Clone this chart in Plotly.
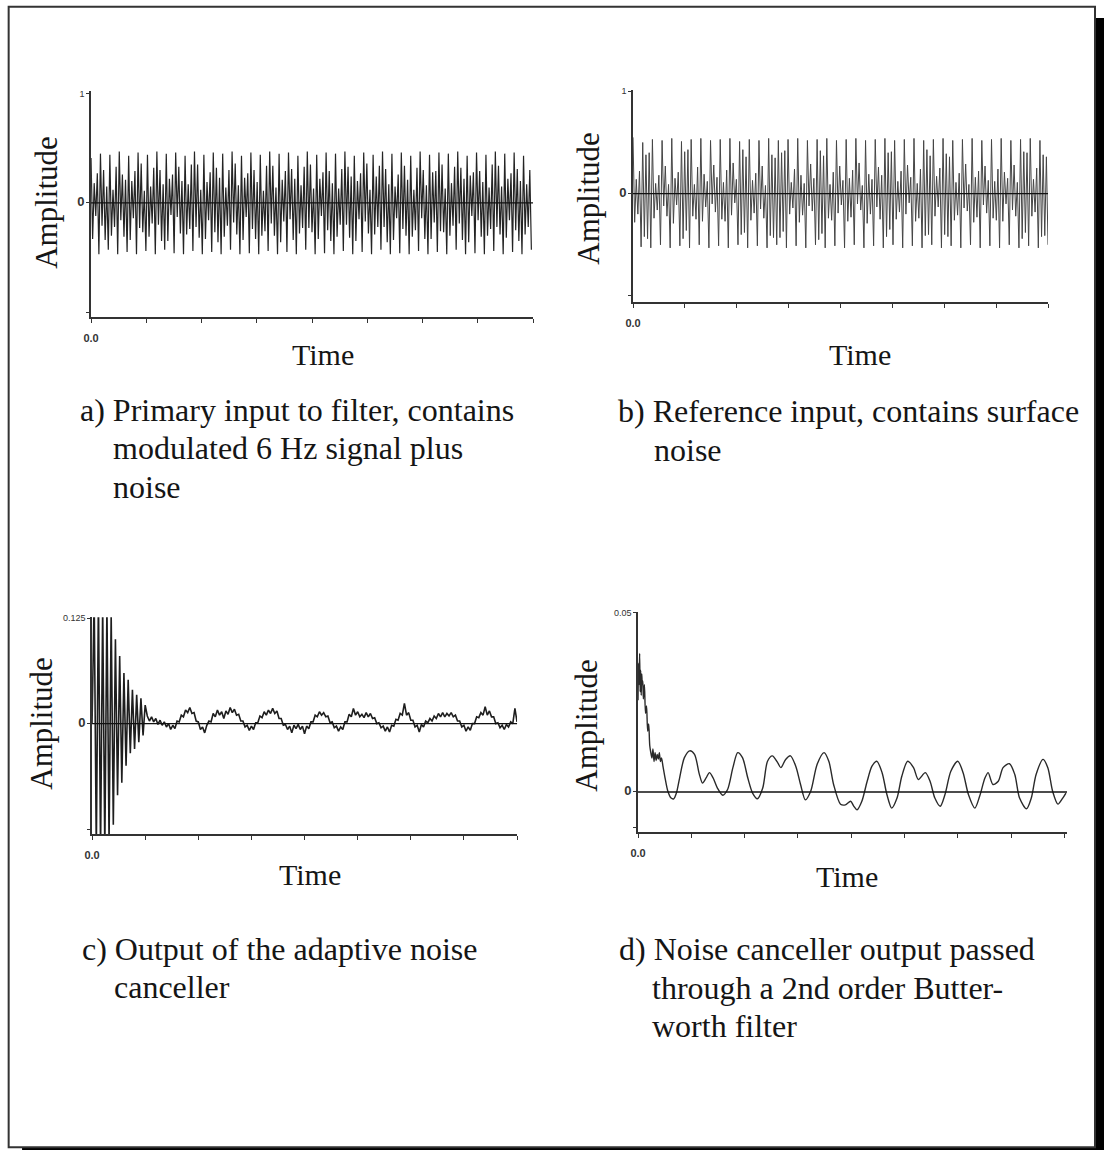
import numpy as np
import plotly.graph_objects as go

# ---------------- data ----------------
# a) primary input: per cycle (upper peak, inner swings, lower peak)
primary_vals = [
    0.41, -0.33, 0.18, -0.12, 0.27, -0.47,   0.45, -0.21, 0.30, -0.34, 0.15, -0.43,
    0.44, -0.30, 0.12, -0.22, 0.33, -0.47,   0.47, -0.16, 0.26, -0.31, 0.21, -0.45,
    0.43, -0.34, 0.20, -0.14, 0.29, -0.47,   0.46, -0.23, 0.36, -0.27, 0.11, -0.44,
    0.44, -0.31, 0.15, -0.19, 0.32, -0.47,   0.47, -0.20, 0.30, -0.35, 0.17, -0.43,
    0.45, -0.35, 0.22, -0.11, 0.26, -0.46,   0.46, -0.13, 0.33, -0.28, 0.20, -0.47,
    0.43, -0.29, 0.17, -0.24, 0.35, -0.44,   0.47, -0.22, 0.35, -0.32, 0.12, -0.47,
    0.44, -0.33, 0.19, -0.16, 0.28, -0.45,   0.46, -0.27, 0.32, -0.36, 0.23, -0.47,
    0.45, -0.31, 0.14, -0.21, 0.30, -0.43,   0.47, -0.18, 0.36, -0.29, 0.16, -0.47,
    0.43, -0.34, 0.23, -0.13, 0.27, -0.46,   0.46, -0.24, 0.30, -0.33, 0.19, -0.47,
    0.44, -0.30, 0.11, -0.26, 0.34, -0.44,   0.47, -0.19, 0.34, -0.30, 0.14, -0.47,
    0.45, -0.36, 0.21, -0.17, 0.29, -0.45,   0.46, -0.15, 0.31, -0.34, 0.22, -0.47,
    0.43, -0.28, 0.16, -0.23, 0.33, -0.43,   0.47, -0.23, 0.35, -0.27, 0.13, -0.47,
    0.44, -0.33, 0.22, -0.12, 0.28, -0.46,   0.46, -0.25, 0.29, -0.35, 0.18, -0.47,
    0.45, -0.31, 0.13, -0.20, 0.31, -0.44,   0.47, -0.20, 0.33, -0.32, 0.24, -0.47,
    0.43, -0.35, 0.20, -0.15, 0.27, -0.45,   0.46, -0.17, 0.36, -0.28, 0.12, -0.47,
    0.44, -0.29, 0.24, -0.22, 0.34, -0.43,   0.47, -0.22, 0.31, -0.36, 0.17, -0.47,
    0.45, -0.34, 0.15, -0.14, 0.26, -0.46,   0.46, -0.24, 0.34, -0.30, 0.21, -0.47,
    0.43, -0.31, 0.12, -0.25, 0.32, -0.44,   0.47, -0.14, 0.30, -0.33, 0.16, -0.47,
    0.44, -0.33, 0.28, -0.18, 0.29, -0.45,   0.46, -0.26, 0.35, -0.27, 0.13, -0.47,
    0.45, -0.30, 0.18, -0.21, 0.33, -0.43,   0.47, -0.19, 0.32, -0.34, 0.22, -0.47,
    0.43, -0.36, 0.25, -0.12, 0.28, -0.46,   0.46, -0.16, 0.29, -0.31, 0.19, -0.47,
    0.44, -0.30, 0.14, -0.24, 0.35, -0.44,   0.47, -0.22, 0.34, -0.29, 0.15, -0.47,
    0.45, -0.32, 0.22, -0.16, 0.27, -0.45,   0.46, -0.25, 0.31, -0.35, 0.20, -0.47,
    0.43, -0.29, 0.17, -0.22, 0.30, -0.43,
]

# b) reference input (surface noise)
reference_vals = [
    0.55, -0.28, 0.14, -0.20, 0.22, -0.52,   0.50, -0.42, 0.38, -0.44, 0.40, -0.53,
    0.53, -0.24, 0.10, -0.16, 0.18, -0.50,   0.52, -0.12, 0.27, -0.22, 0.09, -0.53,
    0.54, -0.29, 0.15, -0.11, 0.21, -0.51,   0.51, -0.44, 0.41, -0.36, 0.43, -0.53,
    0.53, -0.22, 0.09, -0.25, 0.26, -0.50,   0.54, -0.27, 0.19, -0.13, 0.12, -0.53,
    0.52, -0.10, 0.28, -0.18, 0.16, -0.51,   0.53, -0.25, 0.11, -0.27, 0.23, -0.53,
    0.54, -0.21, 0.30, -0.09, 0.14, -0.50,   0.51, -0.40, 0.43, -0.38, 0.36, -0.53,
    0.53, -0.26, 0.13, -0.19, 0.20, -0.51,   0.52, -0.15, 0.27, -0.24, 0.08, -0.53,
    0.54, -0.41, 0.38, -0.43, 0.35, -0.50,   0.52, -0.43, 0.40, -0.37, 0.42, -0.53,
    0.53, -0.20, 0.11, -0.14, 0.24, -0.51,   0.54, -0.28, 0.18, -0.21, 0.10, -0.53,
    0.52, -0.12, 0.29, -0.17, 0.15, -0.50,   0.53, -0.45, 0.42, -0.39, 0.37, -0.53,
    0.54, -0.24, 0.09, -0.26, 0.21, -0.51,   0.52, -0.19, 0.27, -0.11, 0.13, -0.53,
    0.53, -0.27, 0.15, -0.23, 0.23, -0.50,   0.54, -0.10, 0.30, -0.16, 0.08, -0.53,
    0.52, -0.29, 0.19, -0.20, 0.14, -0.51,   0.53, -0.13, 0.26, -0.25, 0.18, -0.53,
    0.54, -0.42, 0.40, -0.35, 0.41, -0.50,   0.52, -0.25, 0.12, -0.18, 0.22, -0.53,
    0.53, -0.20, 0.28, -0.09, 0.16, -0.51,   0.54, -0.27, 0.10, -0.24, 0.24, -0.53,
    0.52, -0.41, 0.43, -0.40, 0.37, -0.50,   0.53, -0.22, 0.17, -0.13, 0.25, -0.53,
    0.54, -0.40, 0.39, -0.42, 0.36, -0.51,   0.52, -0.26, 0.11, -0.21, 0.20, -0.53,
    0.53, -0.14, 0.29, -0.17, 0.09, -0.50,   0.54, -0.28, 0.16, -0.23, 0.22, -0.53,
    0.52, -0.11, 0.27, -0.19, 0.13, -0.51,   0.53, -0.24, 0.12, -0.26, 0.24, -0.53,
    0.54, -0.27, 0.21, -0.10, 0.15, -0.50,   0.52, -0.16, 0.28, -0.22, 0.11, -0.53,
    0.53, -0.44, 0.41, -0.38, 0.40, -0.51,   0.54, -0.22, 0.14, -0.18, 0.25, -0.53,
    0.52, -0.42, 0.38, -0.41, 0.36, -0.50,
]

# c) adaptive noise canceller output (sampled every 0.04 time units)
canceller_vals = [
    0.00, 0.15, -0.15, 0.15, -0.15, 0.14, -0.15, 0.14, -0.14, 0.13,
    -0.12, 0.10, -0.085, 0.08, -0.07, 0.06, -0.05, 0.052, -0.035, 0.04,
    -0.03, 0.034, -0.022, 0.03, -0.014, 0.022, 0.009, 0.003, 0.008, 0.002,
    0.006, -0.001, 0.004, -0.002, 0.002, -0.004, 0.000, -0.007, -0.002, -0.006,
    0.003, 0.002, 0.010, 0.008, 0.016, 0.013, 0.019, 0.012, 0.013, 0.003,
    0.002, -0.007, -0.004, -0.011, -0.002, 0.003, 0.002, 0.012, 0.008, 0.016,
    0.010, 0.014, 0.006, 0.015, 0.011, 0.019, 0.013, 0.017, 0.010, 0.011,
    0.003, 0.003, -0.004, -0.002, -0.008, -0.003, -0.007, 0.001, 0.001, 0.009,
    0.007, 0.014, 0.010, 0.016, 0.012, 0.018, 0.012, 0.015, 0.006, 0.006,
    -0.002, -0.001, -0.007, -0.003, -0.011, -0.002, -0.006, -0.001, -0.007, -0.003,
    -0.012, -0.003, -0.006, 0.002, 0.002, 0.010, 0.008, 0.014, 0.010, 0.013,
    0.008, 0.009, 0.001, 0.002, -0.005, -0.003, -0.009, -0.004, -0.007, 0.002,
    0.002, 0.011, 0.008, 0.018, 0.010, 0.014, 0.008, 0.011, 0.007, 0.013,
    0.008, 0.012, 0.006, 0.007, 0.000, 0.001, -0.005, -0.003, -0.009, -0.004,
    -0.010, -0.002, -0.003, 0.005, 0.004, 0.012, 0.010, 0.024, 0.010, 0.013,
    0.004, 0.004, -0.004, -0.002, -0.010, -0.001, -0.004, 0.003, 0.001, 0.006,
    0.003, 0.009, 0.006, 0.012, 0.008, 0.013, 0.008, 0.012, 0.009, 0.013,
    0.008, 0.010, 0.003, 0.003, -0.004, -0.002, -0.009, -0.004, -0.008, 0.000,
    0.000, 0.008, 0.007, 0.013, 0.010, 0.020, 0.010, 0.015, 0.008, 0.008,
    0.000, 0.001, -0.005, -0.002, -0.007, -0.001, -0.004, 0.002, 0.000, 0.018,
    0.002,
]

# d) output after 2nd order Butterworth filter
butter_t = [
    0.00, 0.01, 0.02, 0.03, 0.04, 0.05, 0.06, 0.07, 0.08, 0.09, 0.10, 0.12,
    0.14, 0.16, 0.18, 0.20, 0.22, 0.24, 0.26, 0.28, 0.30, 0.32, 0.34, 0.36,
    0.38, 0.40, 0.42, 0.44, 0.47, 0.50, 0.56, 0.62, 0.67, 0.72, 0.78, 0.87,
    0.97, 1.06, 1.15, 1.21, 1.28, 1.34, 1.41, 1.49, 1.59, 1.68, 1.78, 1.87,
    1.96, 2.06, 2.15, 2.24, 2.34, 2.43, 2.52, 2.62, 2.68, 2.77, 2.86, 2.96,
    3.05, 3.14, 3.24, 3.36, 3.49, 3.58, 3.67, 3.80, 3.89, 3.99, 4.05, 4.11,
    4.20, 4.30, 4.39, 4.48, 4.58, 4.67, 4.76, 4.86, 4.95, 5.06, 5.17, 5.26,
    5.39, 5.48, 5.57, 5.67, 5.76, 5.87, 6.00, 6.10, 6.20, 6.32, 6.41, 6.51,
    6.57, 6.66, 6.76, 6.85, 6.97, 7.07, 7.16, 7.29, 7.38, 7.47, 7.60, 7.69,
    7.78, 7.88, 7.97, 8.03,
]
butter_vals = [
    0.0256, 0.0360, 0.0300, 0.0387, 0.0280, 0.0340, 0.0270, 0.0330, 0.0300, 0.0310, 0.0260, 0.0300,
    0.0220, 0.0240, 0.0170, 0.0190, 0.0130, 0.0110, 0.0095, 0.0120, 0.0085, 0.0110, 0.0088, 0.0105,
    0.0092, 0.0110, 0.0085, 0.0095, 0.0070, 0.0045, 0.0002, -0.0017, -0.0019, -0.0003, 0.0039, 0.0096,
    0.0115, 0.0105, 0.0050, 0.0025, 0.0040, 0.0054, 0.0039, 0.0011, -0.0009, 0.0007, 0.0068, 0.0110,
    0.0096, 0.0039, -0.0003, -0.0019, 0.0011, 0.0086, 0.0101, 0.0082, 0.0068, 0.0091, 0.0101, 0.0072,
    0.0021, -0.0022, 0.0002, 0.0077, 0.0110, 0.0086, 0.0021, -0.0034, -0.0036, -0.0026, -0.0040, -0.0050,
    -0.0026, 0.0030, 0.0072, 0.0086, 0.0054, -0.0007, -0.0045, -0.0017, 0.0044, 0.0086, 0.0068, 0.0035,
    0.0054, 0.0030, -0.0017, -0.0040, -0.0007, 0.0058, 0.0086, 0.0054, -0.0007, -0.0045, -0.0012, 0.0039,
    0.0054, 0.0021, 0.0030, 0.0068, 0.0079, 0.0049, -0.0017, -0.0047, -0.0017, 0.0049, 0.0091, 0.0068,
    0.0002, -0.0034, -0.0017, -0.0003,
]

panel_captions = {
    "a": ["a) Primary input to filter, contains", "modulated 6 Hz signal plus", "noise"],
    "b": ["b) Reference input, contains surface", "noise"],
    "c": ["c) Output of the adaptive noise", "canceller"],
    "d": ["d) Noise canceller output passed", "through a 2nd order Butter-", "worth filter"],
}
x_tick_vals = [0, 1, 2, 3, 4, 5, 6, 7, 8]
x_tick_text = ["<b>0.0</b>", "", "", "", "", "", "", "", ""]

# ---------------- layout helpers ----------------
W, H = 1104, 1150
# the photographed page shows the figure shifted and scaled by ~0.993;
# target positions below are given in picture pixels and converted here
SHIFT_X, SHIFT_Y, SCALE = 7.94, 6.0, 0.9928
def px(x):
    return ((x - SHIFT_X) / SCALE) / W
def py(y):
    return 1 - ((y - SHIFT_Y) / SCALE) / H

SERIF = "Liberation Serif"
SANS = "Liberation Sans"
INK = "#151515"

fig = go.Figure()

t_a = np.linspace(0, 7.97, len(primary_vals))
t_b = np.linspace(0, 8.0, len(reference_vals))
t_c = np.linspace(0, 8.0, len(canceller_vals))

fig.add_trace(go.Scatter(x=t_a, y=primary_vals, mode="lines",
                         line=dict(color="#242424", width=1.2), xaxis="x", yaxis="y"))
fig.add_trace(go.Scatter(x=t_b, y=reference_vals, mode="lines",
                         line=dict(color="#454545", width=1.0), xaxis="x2", yaxis="y2"))
fig.add_trace(go.Scatter(x=t_c, y=canceller_vals, mode="lines",
                         line=dict(color="#1e1e1e", width=1.6), xaxis="x3", yaxis="y3"))
fig.add_trace(go.Scatter(x=butter_t, y=butter_vals, mode="lines",
                         line=dict(color="#2a2a2a", width=1.4, shape="spline", smoothing=0.8),
                         xaxis="x4", yaxis="y4"))

ZERO = '<span style="font-size:13px"><b>0</b></span>'
panels = [
    # name, x0, x1, ytop, ybot, yrange, ytickvals, yticktext
    ("", 91, 533, 93, 318, [-1.046, 1.02], [-1, 0, 1], ["", ZERO, "1"]),
    ("2", 633, 1048, 92, 303, [-1.06, 1.01], [-1, 0, 1], ["", ZERO, "1"]),
    ("3", 92, 517, 617, 833, [-0.131, 0.126], [-0.125, 0, 0.125], ["", ZERO, "0.125"]),
    ("4", 638, 1067, 612, 831, [-0.0112, 0.0502], [-0.01, 0, 0.05], ["", ZERO, "0.05"]),
]

layout = dict(
    width=W, height=H, autosize=False,
    margin=dict(l=0, r=0, t=0, b=0),
    paper_bgcolor="white", plot_bgcolor="white",
    showlegend=False,
)
shapes = []
for name, x0, x1, yt, yb, yr, ytv, ytt in panels:
    layout["xaxis" + name] = dict(
        domain=[px(x0), px(x1)], range=[0, 8.05 if name == "4" else 8.0],
        anchor="y" + name, showgrid=False, zeroline=False,
        showline=True, linecolor="#333", linewidth=1.5,
        ticks="outside", ticklen=4, tickcolor="#333", tickwidth=1,
        tickvals=x_tick_vals, ticktext=x_tick_text, ticklabelstandoff=6,
        tickfont=dict(family=SANS, size=11, color="#333"),
    )
    layout["yaxis" + name] = dict(
        domain=[py(yb), py(yt)], range=yr,
        anchor="x" + name, showgrid=False, zeroline=False,
        showline=True, linecolor="#333", linewidth=1.5,
        ticks="outside", ticklen=3, tickcolor="#333", tickwidth=1,
        tickvals=ytv, ticktext=ytt,
        tickfont=dict(family=SANS, size=9, color="#333"),
    )
    shapes.append(dict(type="line", xref=("x" + name) + " domain", yref="y" + name,
                       x0=0, x1=1, y0=0, y1=0, layer="above",
                       line=dict(color="#111", width=1.4)))

# outer frame with drop shadow
shapes.append(dict(type="rect", xref="paper", yref="paper",
                   x0=px(1095), x1=1.0, y0=0.0, y1=py(20),
                   fillcolor="black", line=dict(width=0), layer="above"))
shapes.append(dict(type="rect", xref="paper", yref="paper",
                   x0=px(22), x1=1.0, y0=0.0, y1=py(1145),
                   fillcolor="black", line=dict(width=0), layer="above"))
shapes.append(dict(type="rect", xref="paper", yref="paper",
                   x0=px(8.6), x1=px(1095), y0=py(1145), y1=py(8.8),
                   line=dict(color="#333", width=2), layer="above"))
layout["shapes"] = shapes

annotations = []
def label(text, x, y, size, angle=0, anchor="center"):
    annotations.append(dict(text=text, x=px(x), y=py(y), xref="paper", yref="paper",
                            showarrow=False, textangle=angle, xanchor=anchor,
                            yanchor="middle",
                            font=dict(family=SERIF, size=size, color=INK)))

# axis titles
for tx, ty in [(323, 355), (860, 355), (310, 873), (847, 875)]:
    label("Time", tx, ty, 30)
for ax, ay in [(47, 204), (589, 200), (42, 723), (587, 725)]:
    label("Amplitude", ax, ay, 31, angle=-90)

# captions
cap_pos = {
    "a": [(78, 410), (111, 448), (111, 487)],
    "b": [(616, 411), (652, 450)],
    "c": [(80, 947), (112, 985)],
    "d": [(617, 947), (650, 986), (650, 1024)],
}
for key, lines in panel_captions.items():
    for txt, (cx, cy) in zip(lines, cap_pos[key]):
        label(txt, cx, cy, 32, anchor="left")

layout["annotations"] = annotations
fig.update_layout(**layout)

fig.write_html("out.html", config={"displayModeBar": False},
               post_script="document.body.style.margin='0px';")
